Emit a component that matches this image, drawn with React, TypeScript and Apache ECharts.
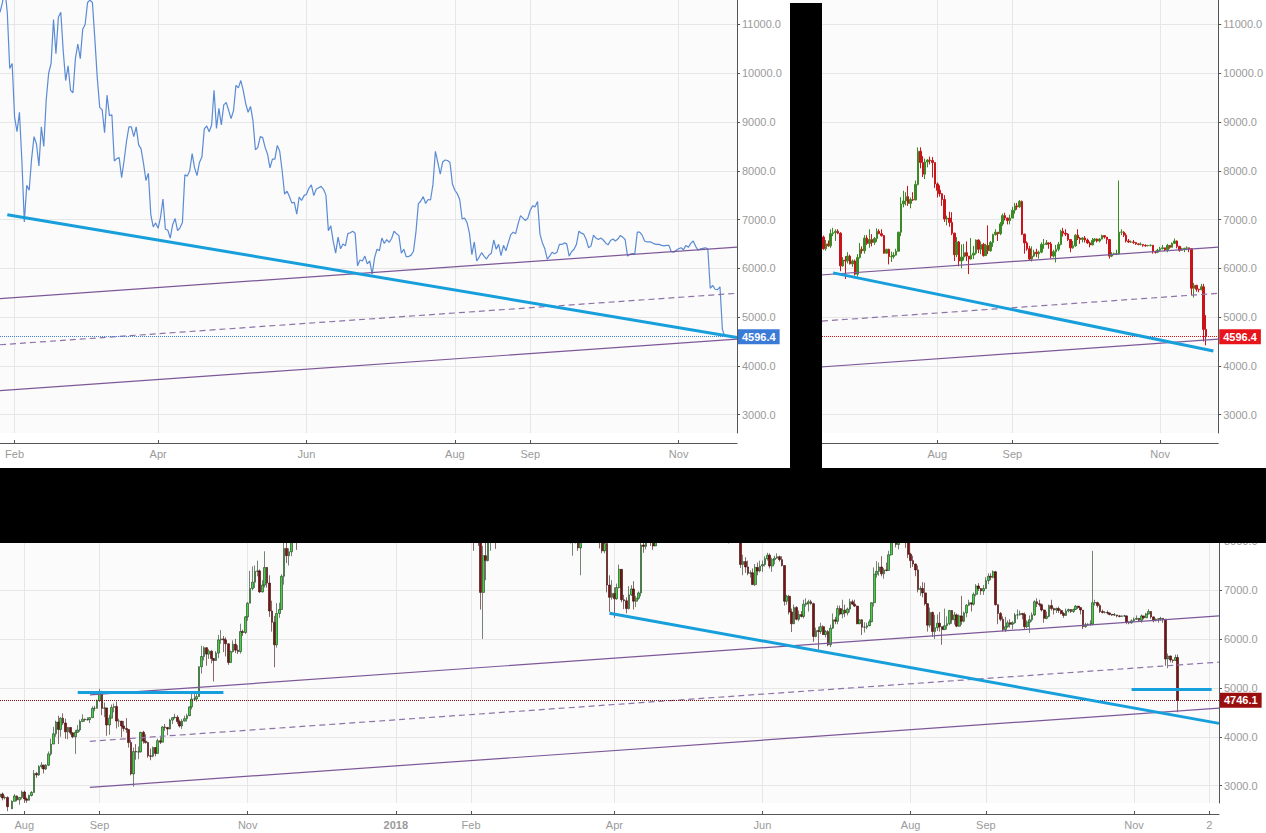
import React, { useEffect, useRef } from 'react';
import * as echarts from 'echarts';

// Daily bars: [close, low, high]; open = previous day's close.
const firstOpen = 2770;
const jul2017 = [[2830,2720,2900],[2750,2700,2860],[2760,2720,2800],[2570,2480,2780],[2530,2450,2620],[2680,2520,2700],[2790,2680,2830],[2710,2680,2800],[2760,2610,2770],[2870,2720,2900]];
const aug2017 = [[2730,2650,2900],[2700,2650,2760],[2800,2700,2820],[2860,2780,2890],[3250,2860,3320],[3220,3160,3280],[3390,3200,3420],[3420,3350,3480],[3340,3250,3430],[3420,3320,3440],[3650,3400,3700],[3850,3610,3960],[4060,3850,4200],[4300,4000,4330],[4150,3850,4430],[4380,4000,4400],[4280,4240,4480],[4100,3960,4370],[4190,3950,4200],[4080,4040,4200],[4000,3970,4090],[4090,3650,4140],[4140,4080,4240],[4310,4100,4350],[4360,4300,4460],[4350,4310,4370],[4350,4330,4400],[4390,4280,4400],[4580,4390,4620],[4580,4520,4630],[4740,4580,4760]];
const sep2017 = [[4920,4710,4980],[4580,4440,4940],[4590,4400,4700],[4240,4020,4590],[4380,4040,4450],[4600,4380,4660],[4620,4500,4680],[4320,4170,4720],[4320,4200,4370],[4220,3990,4320],[4170,4110,4320],[4150,4080,4380],[3880,3780,4150],[3240,3210,3940],[3700,2980,3780],[3690,3530,3850],[3690,3540,3800],[4090,3680,4100],[3910,3860,4120],[3880,3860,4050],[3610,3570,3900],[3600,3520,3760],[3780,3580,3800],[3660,3600,3790],[3920,3660,3960],[3890,3850,3990],[4200,3890,4220],[4190,4120,4260],[4160,4030,4200],[4340,4150,4370]];
const oct2017 = [[4390,4260,4400],[4400,4370,4470],[4310,4260,4440],[4220,4190,4350],[4320,4160,4360],[4370,4310,4430],[4430,4310,4470],[4610,4440,4620],[4770,4560,4880],[4770,4730,4920],[4820,4720,4880],[5430,4820,5440],[5640,5290,5860],[5820,5560,5850],[5690,5450,5830],[5750,5590,5790],[5600,5500,5770],[5560,5130,5580],[5710,5550,5750],[5980,5610,6080],[6000,5900,6180],[5980,5730,6060],[5900,5640,6030],[5520,5470,5900],[5740,5530,5760],[5890,5720,5970],[5770,5710,6000],[5740,5690,5870],[6150,5700,6310],[6130,6060,6190],[6450,6100,6470]];
const nov2017 = [[6730,6370,6750],[7030,6730,7390],[7160,6990,7480],[7380,7040,7500],[7390,7280,7600],[6960,6940,7420],[7100,6950,7200],[7460,7050,7790],[7140,7050,7450],[6570,6450,7300],[6340,6150,6780],[5880,5420,6470],[6520,5820,6730],[6600,6430,6740],[7280,6600,7320],[7850,7110,7970],[7700,7550,8000],[7780,7500,7850],[8040,7690,8080],[8200,7970,8270],[8070,7820,8350],[8240,8050,8270],[8100,8060,8290],[8240,8000,8330],[8750,8200,8770],[9290,8730,9470],[9720,9330,9730],[9900,9660,9990],[9850,9010,11100],[9940,9200,10100]];
const dec2017 = [[10860,9420,10950],[10890,10690,11190],[11230,10500,11850],[11620,10990,11640],[11680,11500,11900],[13750,11650,13850],[16600,13650,16650],[15790,13400,17200],[14610,13000,15880],[15000,13200,15700],[16730,14980,17400],[17280,16300,17500],[16390,16000,17400],[16450,16000,16900],[17610,16300,17950],[19200,17500,19600],[18950,18700,19700],[18990,18130,19150],[17550,16700,19000],[16370,15050,17850],[15400,14550,17250],[13830,10900,15700],[14370,13500,15450],[13900,12500,14270],[14030,13200,14450],[15850,13900,16400],[15400,14700,16500],[14500,13600,15200],[14480,14000,15250],[12860,12500,14500],[13800,12750,14200]];
const jan2018 = [[13440,12800,13900],[14750,12900,15300],[15010,14600,15400],[15060,14200,15300],[16940,15000,17200],[17170,16300,17200],[16150,15900,17100],[14930,13900,16300],[14580,14200,15300],[14820,13200,14900],[13260,12500,14920],[13720,12750,14100],[14160,13700,14500],[13610,13000,14400],[13540,13400,14300],[11390,10000,13580],[11180,9400,11650],[11230,10700,12000],[11580,11000,11800],[12770,11550,13000],[11480,11250,12750],[10800,10100,11850],[10880,10070,11300],[11400,10700,11500],[11170,10900,11700],[11250,10500,11600],[11450,10900,11600],[11750,11400,12000],[11240,11150,11850],[10100,10000,11280],[10200,9700,10300]];
const feb2018 = [[9100,8750,10240],[8800,7800,9100],[9200,8300,9450],[8200,7900,9370],[6950,6600,8390],[7700,6000,7900],[7600,7200,8500],[8250,7580,8600],[8700,7800,8750],[8550,8150,9080],[8100,7840,8570],[8900,8100,8950],[8500,8350,8950],[9450,8500,9500],[10000,9350,10200],[10200,9700,10300],[11100,10100,11100],[10400,10100,11200],[11150,10300,11250],[11250,11100,11800],[10450,10300,11300],[9850,9700,10900],[10150,9600,10450],[9650,9380,10500],[9600,9300,9850],[10300,9400,10400],[10600,10150,10850],[10300,10300,11050]];
const mar2018 = [[10900,10300,11050],[11000,10800,11200],[11450,11000,11500],[11500,11100,11550],[11450,11400,11700],[10700,10600,11450],[9900,9500,10900],[9300,9100,10100],[9250,8350,9400],[8780,8750,9500],[9550,8500,9720],[9130,8800,9900],[9150,8900,9450],[8200,7950,9350],[8250,7700,8420],[8270,7950,8600],[7860,7800,8350],[8200,7300,8250],[8600,8100,8700],[8900,8300,9050],[8900,8750,9180],[8700,8500,9100],[8900,8300,8900],[8530,8500,9000],[8450,8350,8650],[8150,7850,8500],[7800,7750,8200],[7950,7750,8100],[7100,6950,7950],[6850,6550,7300],[6930,6800,7200]];
const apr2018 = [[6820,6430,7050],[7050,6800,7130],[7420,7030,7520],[6800,6750,7430],[6780,6610,6900],[6620,6520,6850],[6900,6600,7080],[7020,6880,7100],[6770,6600,7180],[6830,6650,6880],[6940,6800,6970],[7920,6870,8050],[7890,7760,8230],[8000,7830,8150],[8350,7990,8420],[8060,7900,8420],[7900,7820,8150],[8170,7900,8230],[8280,8150,8300],[8860,8240,8930],[8920,8600,9030],[8800,8770,9000],[8940,8790,9000],[9650,8930,9750],[8870,8700,9750],[9280,8700,9300],[8940,8900,9360],[9350,8920,9440],[9400,9200,9500],[9240,9100,9450]];
const may2018 = [[9070,8850,9250],[9230,9000,9260],[9750,9160,9800],[9700,9500,9750],[9850,9680,9980],[9650,9400,9900],[9380,9200,9660],[9200,9100,9470],[9320,9000,9370],[9030,9020,9370],[8430,8350,9030],[8480,8220,8630],[8700,8350,8750],[8680,8300,8870],[8480,8450,8850],[8340,8100,8490],[8060,8030,8370],[8240,7950,8270],[8240,8160,8390],[8520,8180,8560],[8400,8330,8560],[8000,7960,8420],[7520,7450,8040],[7580,7300,7720],[7470,7350,7670],[7340,7300,7600],[7350,7250,7400],[7110,7100,7440],[7460,7080,7530],[7390,7300,7560],[7490,7360,7600]];
const jun2018 = [[7520,7370,7600],[7640,7480,7690],[7710,7600,7760],[7490,7440,7750],[7620,7370,7660],[7650,7520,7700],[7680,7640,7750],[7620,7580,7700],[7500,7480,7690],[6770,6680,7500],[6870,6700,6900],[6550,6500,6900],[6310,6140,6620],[6640,6300,6700],[6400,6380,6670],[6500,6360,6580],[6460,6440,6570],[6710,6420,6800],[6730,6660,6830],[6760,6560,6800],[6720,6700,6800],[6050,5940,6740],[6170,6030,6230],[6150,5780,6250],[6250,6100,6330],[6090,6080,6280],[6150,6030,6180],[5880,5850,6180],[6220,5830,6290],[6390,6200,6520]];
const jul2018 = [[6360,6300,6450],[6620,6300,6680],[6510,6480,6680],[6590,6420,6800],[6530,6450,6700],[6610,6480,6640],[6760,6540,6820],[6710,6700,6800],[6670,6650,6800],[6310,6300,6680],[6390,6300,6400],[6240,6080,6400],[6240,6130,6340],[6270,6200,6330],[6350,6260,6400],[6740,6340,6750],[7320,6660,7460],[7380,7250,7590],[7470,7290,7560],[7330,7280,7690],[7410,7230,7450],[7400,7380,7560],[7720,7400,7800],[8400,7700,8480],[8170,8050,8480],[7930,7870,8300],[8180,7830,8250],[8220,8070,8240],[8210,8130,8290],[8170,7860,8280],[7730,7650,8170]];
const aug2018 = [[7600,7450,7760],[7530,7470,7700],[7410,7280,7540],[7010,6950,7500],[7030,6880,7080],[6940,6850,7160],[6720,6680,7150],[6280,6150,6730],[6540,6230,6640],[6150,6040,6560],[6230,6000,6490],[6320,6160,6500],[6250,6150,6550],[6190,5880,6250],[6270,6180,6620],[6310,6190,6460],[6580,6280,6590],[6390,6310,6590],[6490,6290,6550],[6260,6240,6520],[6470,6250,6500],[6360,6290,6880],[6530,6340,6560],[6690,6440,6710],[6740,6670,6800],[6710,6560,6740],[6910,6680,6950],[7080,6870,7120],[7030,6980,7140],[6980,6900,7040],[7030,6900,7100]];
const sep2018 = [[7190,7030,7260],[7280,7120,7340],[7260,7200,7340],[7370,7240,7400],[6700,6680,7390],[6520,6300,6710],[6400,6360,6550],[6190,6150,6460],[6250,6140,6450],[6330,6230,6380],[6300,6230,6400],[6330,6200,6360],[6490,6310,6530],[6490,6400,6600],[6520,6480,6580],[6500,6400,6530],[6250,6200,6540],[6340,6220,6380],[6390,6120,6480],[6490,6350,6540],[6760,6470,6790],[6720,6650,6830],[6700,6660,6800],[6590,6560,6720],[6420,6330,6600],[6460,6400,6560],[6680,6440,6700],[6620,6580,6800],[6590,6500,6640],[6620,6530,6640]];
const oct2018 = [[6580,6530,6660],[6520,6500,6610],[6480,6430,6550],[6570,6470,6620],[6600,6540,6620],[6560,6530,6610],[6600,6530,6620],[6670,6590,6690],[6640,6610,6670],[6590,6500,6640],[6250,6200,6590],[6290,6230,6330],[6300,6270,6320],[6300,6270,6380],[6740,6280,7800],[6740,6680,6800],[6680,6640,6760],[6560,6530,6720],[6540,6520,6600],[6540,6520,6570],[6530,6500,6580],[6500,6480,6540],[6490,6470,6510],[6490,6470,6530],[6470,6440,6490],[6460,6440,6490],[6470,6450,6480],[6470,6450,6490],[6340,6300,6480],[6330,6300,6360],[6370,6310,6400]];
const nov2018 = [[6400,6350,6440],[6420,6390,6480],[6380,6350,6420],[6470,6330,6500],[6430,6400,6470],[6510,6430,6530],[6560,6500,6610],[6450,6410,6570],[6370,6340,6460],[6400,6360,6420],[6410,6330,6420],[6420,6370,6450],[6400,6330,6420],[5590,5450,6410],[5650,5400,5700],[5570,5520,5660],[5560,5510,5580],[5620,5550,5680],[4746.1,4500,5680],[4596.4,4420,5040]];

const monthStarts: [string, number[][]][] = [
  ['2017-07-22', jul2017], ['2017-08-01', aug2017], ['2017-09-01', sep2017], ['2017-10-01', oct2017],
  ['2017-11-01', nov2017], ['2017-12-01', dec2017], ['2018-01-01', jan2018], ['2018-02-01', feb2018],
  ['2018-03-01', mar2018], ['2018-04-01', apr2018], ['2018-05-01', may2018], ['2018-06-01', jun2018],
  ['2018-07-01', jul2018], ['2018-08-01', aug2018], ['2018-09-01', sep2018], ['2018-10-01', oct2018],
  ['2018-11-01', nov2018],
];

// Axis ranges
const topLeftRange = ['2018-01-26', '2018-11-25'];
const topRightRange = ['2018-06-02', '2018-11-25'];
const bottomRange = ['2017-07-22', '2018-12-06'];
const bottomLastDate = '2018-11-19';
const topLastPrice = 4596.4;
const bottomLastPrice = 4746.1;

const topLeftTickDates = ['2018-02-01', '2018-04-01', '2018-06-01', '2018-08-01', '2018-09-01', '2018-11-01'];
const topLeftTickLabels = ['Feb', 'Apr', 'Jun', 'Aug', 'Sep', 'Nov'];
const topRightTickDates = ['2018-08-01', '2018-09-01', '2018-11-01'];
const topRightTickLabels = ['Aug', 'Sep', 'Nov'];
const bottomTickDates = ['2017-08-01', '2017-09-01', '2017-11-01', '2018-01-01', '2018-02-01', '2018-04-01', '2018-06-01', '2018-08-01', '2018-09-01', '2018-11-01', '2018-12-02'];
const bottomTickLabels = ['Aug', 'Sep', 'Nov', '2018', 'Feb', 'Apr', 'Jun', 'Aug', 'Sep', 'Nov', '2'];
const topPriceTicks = [3000, 4000, 5000, 6000, 7000, 8000, 9000, 10000, 11000];
const bottomPriceTicks = [3000, 4000, 5000, 6000, 7000, 8000];

// Drawn lines: [date, price] pairs
const tlUpper = [['2018-01-26', 5379], ['2018-11-25', 6434]];
const tlMiddle = [['2018-01-26', 4432], ['2018-11-25', 5487]];
const tlLower = [['2018-01-26', 3492], ['2018-11-25', 4547]];
const tlBlue = [['2018-01-29', 7100], ['2018-11-25', 4580]];
const trUpper = [['2018-06-02', 5821], ['2018-11-25', 6434]];
const trMiddle = [['2018-06-02', 4874], ['2018-11-25', 5487]];
const trLower = [['2018-06-02', 3934], ['2018-11-25', 4547]];
const trBlue = [['2018-06-19', 5906], ['2018-11-23', 4305]];
const btUpper = [['2017-08-28', 4854], ['2018-12-06', 6472]];
const btMiddle = [['2017-08-28', 3907], ['2018-12-06', 5525]];
const btLower = [['2017-08-28', 2967], ['2018-12-06', 4585]];
const btBlue = [['2018-03-30', 6523], ['2018-12-06', 4273]];
const btFlatLeft = [['2017-08-23', 4909], ['2017-10-22', 4909]];
const btFlatRight = [['2018-10-31', 4970], ['2018-12-03', 4970]];

const FONT = 'Arial, "Liberation Sans", sans-serif';

function addDays(iso: string, n: number): string {
  const [y, m, d] = iso.split('-').map(Number);
  return new Date(Date.UTC(y, m - 1, d) + n * 86400000).toISOString().slice(0, 10);
}
function dayRange(a: string, b: string): string[] {
  const out: string[] = [];
  let cur = a;
  while (cur <= b) { out.push(cur); cur = addDays(cur, 1); }
  return out;
}

const byDate: Record<string, { ohlc: number[]; close: number }> = {};
(() => {
  let prev = firstOpen;
  for (const [start, rows] of monthStarts) {
    rows.forEach((r, i) => {
      const d = addDays(start, i);
      byDate[d] = { ohlc: [prev, r[0], r[1], r[2]], close: r[0] };
      prev = r[0];
    });
  }
})();

function xAxisFor(gridIndex: number, cats: string[], tickDates: string[], tickLabels: string[], offset: number) {
  const map: Record<string, string> = {};
  tickDates.forEach((d, i) => { map[d] = tickLabels[i]; });
  const pick = (_i: number, v: string) => map[v] !== undefined;
  return {
    type: 'category', gridIndex, data: cats, boundaryGap: false, offset,
    axisLine: { show: true, onZero: false, lineStyle: { color: '#555', width: 1 } },
    axisTick: { show: true, inside: true, length: 3, interval: pick, lineStyle: { color: '#555' } },
    axisLabel: {
      interval: pick, margin: 5,
      color: '#9a9a9a', fontSize: 11, fontFamily: FONT,
      formatter: (v: string) => (/^\d{4}$/.test(map[v] || '') ? `{b|${map[v]}}` : map[v] || ''),
      rich: { b: { fontWeight: 'bold', color: '#9a9a9a', fontSize: 11, fontFamily: FONT } },
    },
    splitLine: { show: true, interval: pick, lineStyle: { color: '#e6e6e6', width: 1 } },
  };
}

function yAxisFor(gridIndex: number, min: number, max: number, ticks: number[]) {
  return {
    type: 'value', gridIndex, position: 'right', min, max,
    axisLine: { show: true, onZero: false, lineStyle: { color: '#555', width: 1 } },
    axisTick: { show: true, length: 3, customValues: ticks, lineStyle: { color: '#555' } },
    axisLabel: {
      customValues: ticks, margin: 5, color: '#9a9a9a', fontSize: 11, fontFamily: FONT,
      formatter: (v: number) => Number(v).toFixed(1),
    },
    splitLine: { show: true, lineStyle: { color: '#e6e6e6', width: 1 } },
  };
}

const purple = { color: '#7d5899', width: 1.2, type: 'solid' };
const purpleDash = { color: '#8f73a8', width: 1.2, type: [6, 4] };
const blue = { color: '#179fdc', width: 3, type: 'solid' };

function seg(cats: string[], pts: (string | number)[][], style: any) {
  return [
    { coord: [cats.indexOf(pts[0][0] as string), pts[0][1]], lineStyle: style },
    { coord: [cats.indexOf(pts[1][0] as string), pts[1][1]] },
  ];
}

function priceLine(value: number, lineColor: string, bg: string) {
  return {
    yAxis: value,
    lineStyle: { color: lineColor, type: 'dotted', width: 1 },
    label: {
      show: true, position: 'end', distance: 1,
      formatter: () => value.toFixed(1),
      backgroundColor: bg, color: '#fff', fontWeight: 'bold', fontSize: 11, fontFamily: FONT,
      padding: [2, 4, 2, 4],
    },
  };
}

function markLines(data: any[]) {
  return { silent: true, symbol: ['none', 'none'], animation: false, label: { show: false }, data };
}

const gridBase = { show: true, backgroundColor: '#fbfbfb', borderWidth: 0, containLabel: false };

export default function App() {
  const topRef = useRef<HTMLDivElement>(null);
  const botRef = useRef<HTMLDivElement>(null);
  useEffect(() => {
    if (!topRef.current || !botRef.current) return;
    const top = echarts.init(topRef.current, undefined, { renderer: 'svg' });
    const bot = echarts.init(botRef.current, undefined, { renderer: 'svg' });

    const tlCats = dayRange(topLeftRange[0], topLeftRange[1]);
    const trCats = dayRange(topRightRange[0], topRightRange[1]);
    const btCats = dayRange(bottomRange[0], bottomRange[1]);

    const tlData = tlCats.map((d) => (byDate[d] ? byDate[d].close : null));
    const trData = trCats.map((d) => (byDate[d] ? byDate[d].ohlc : '-'));
    const btData = btCats.map((d) => (byDate[d] && d <= bottomLastDate ? byDate[d].ohlc : '-'));

    top.setOption({
      animation: false,
      backgroundColor: '#ffffff',
      textStyle: { fontFamily: FONT },
      grid: [
        { ...gridBase, left: 0, top: 0, width: 737, height: 433 },
        { ...gridBase, left: 792, top: 0, width: 428, height: 433 },
      ],
      xAxis: [
        xAxisFor(0, tlCats, topLeftTickDates, topLeftTickLabels, 10),
        xAxisFor(1, trCats, topRightTickDates, topRightTickLabels, 10),
      ],
      yAxis: [
        yAxisFor(0, 2622, 11502, topPriceTicks),
        yAxisFor(1, 2622, 11502, topPriceTicks),
      ],
      series: [
        {
          type: 'line', xAxisIndex: 0, yAxisIndex: 0, data: tlData,
          showSymbol: false, symbol: 'none',
          lineStyle: { color: '#5b8bd4', width: 1.2 },
          markLine: markLines([
            seg(tlCats, tlUpper, purple), seg(tlCats, tlMiddle, purpleDash), seg(tlCats, tlLower, purple),
            priceLine(topLastPrice, '#3f7fd6', '#3a7bd8'),
            seg(tlCats, tlBlue, blue),
          ]),
        },
        {
          type: 'candlestick', xAxisIndex: 1, yAxisIndex: 1, data: trData, barWidth: 2,
          itemStyle: { color: '#3c8a27', color0: '#c8151c', borderColor: '#3c8a27', borderColor0: '#c8151c', borderWidth: 1 },
          markLine: markLines([
            seg(trCats, trUpper, purple), seg(trCats, trMiddle, purpleDash), seg(trCats, trLower, purple),
            priceLine(topLastPrice, '#d9141b', '#e8141c'),
            seg(trCats, trBlue, blue),
          ]),
        },
      ],
      graphic: [
        { type: 'rect', z: 100, shape: { x: 790, y: 3, width: 32, height: 470 }, style: { fill: '#000' } },
        { type: 'rect', z: 100, shape: { x: 0, y: 468, width: 1266, height: 75 }, style: { fill: '#000' } },
      ],
    });

    bot.setOption({
      animation: false,
      backgroundColor: '#ffffff',
      textStyle: { fontFamily: FONT },
      grid: [{ ...gridBase, left: 0, top: 0, width: 1219, height: 283 }],
      xAxis: [xAxisFor(0, btCats, bottomTickDates, bottomTickLabels, 11)],
      yAxis: [yAxisFor(0, 2646, 8430, bottomPriceTicks)],
      series: [
        {
          type: 'candlestick', xAxisIndex: 0, yAxisIndex: 0, data: btData, barWidth: 2.2,
          itemStyle: { color: '#3fd43f', color0: '#7a1212', borderColor: '#1b351b', borderColor0: '#3a0707', borderWidth: 0.6 },
          markLine: markLines([
            seg(btCats, btUpper, purple), seg(btCats, btMiddle, purpleDash), seg(btCats, btLower, purple),
            priceLine(bottomLastPrice, '#7a0b0b', '#9b0e0e'),
            seg(btCats, btBlue, blue), seg(btCats, btFlatLeft, blue), seg(btCats, btFlatRight, blue),
          ]),
        },
      ],
    });

    return () => { top.dispose(); bot.dispose(); };
  }, []);
  return (
    <div style={{ position: 'absolute', left: 0, top: 0, width: 1266, height: 833, background: '#fff' }}>
      <div ref={botRef} style={{ position: 'absolute', left: 0, top: 520, width: 1266, height: 313, overflow: 'hidden', zIndex: 1 }} />
      <div ref={topRef} style={{ position: 'absolute', left: 0, top: 0, width: 1266, height: 543, overflow: 'hidden', zIndex: 2 }} />
    </div>
  );
}
